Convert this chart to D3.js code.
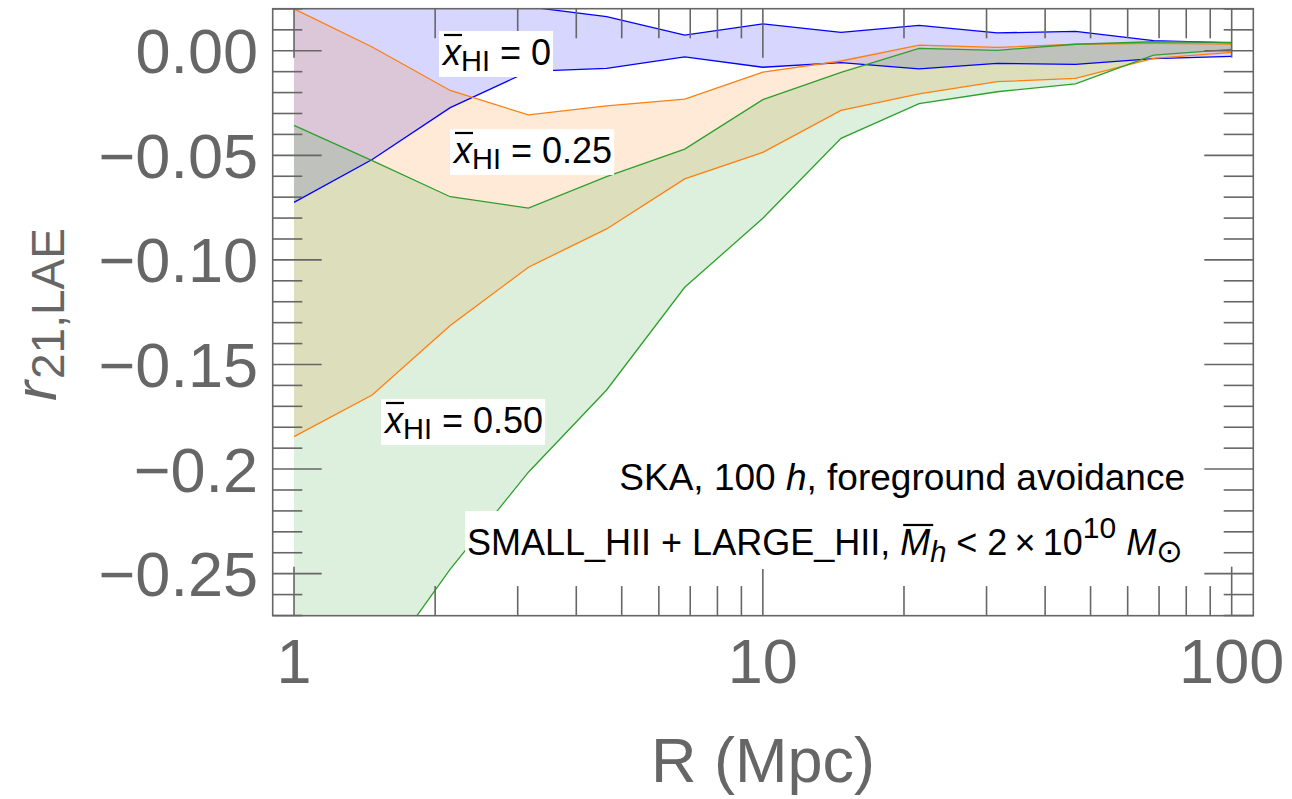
<!DOCTYPE html>
<html>
<head>
<meta charset="utf-8">
<script src="https://cdn.jsdelivr.net/npm/d3@7"></script>
<style>
  html, body { margin: 0; padding: 0; background: #fff; }
  svg { display: block; font-family: "Liberation Sans", Arial, sans-serif; }
</style>
</head>
<body>
<svg id="chart" width="1292" height="799"></svg>
<script>
// Sampled separations R (Mpc), six per decade
const radius = [1, 1.468, 2.154, 3.162, 4.642, 6.813, 10, 14.68, 21.54, 31.62, 46.42, 68.13, 100];

// Upper / lower envelopes of r_{21,LAE} for each mean neutral fraction
const upperX0   = [0.045, 0.038, 0.030, 0.0210, 0.0163, 0.0075, 0.0128, 0.0088, 0.0121, 0.0085, 0.0093, 0.0048, 0.0038];
const lowerX0   = [-0.0725, -0.0520, -0.0272, -0.0099, -0.0084, -0.0029, -0.0079, -0.0057, -0.0087, -0.0060, -0.0065, -0.0038, -0.0027];
const upperX025 = [0.0200, 0.0018, -0.0190, -0.0307, -0.0264, -0.0231, -0.0102, -0.0049, 0.0027, 0.0016, 0.0031, 0.0035, 0.0032];
const lowerX025 = [-0.1845, -0.1646, -0.1314, -0.1035, -0.0852, -0.0613, -0.0486, -0.0285, -0.0206, -0.0148, -0.0132, -0.0036, -0.0008];
const upperX050 = [-0.0357, -0.0525, -0.0698, -0.0752, -0.0602, -0.0470, -0.0234, -0.0103, 0.0011, 0.0002, 0.0031, 0.0043, 0.0040];
const lowerX050 = [-0.350, -0.300, -0.2478, -0.2015, -0.1622, -0.1131, -0.0801, -0.0419, -0.0253, -0.0196, -0.0158, -0.0021, 0.0007];

const seriesNames  = ["0", "0.25", "0.50"];
const seriesColors = ["#0000ff", "#ff7f0e", "#2ca02c"];

// Axis ticks
const xMajorTicks = [1, 10, 100];
const xMinorTicks = [2, 3, 4, 5, 6, 7, 8, 9, 20, 30, 40, 50, 60, 70, 80, 90];
const yMajorTicks = [0, -0.05, -0.10, -0.15, -0.20, -0.25];
const yTickLabels = ["0.00", "\u22120.05", "\u22120.10", "\u22120.15", "\u22120.2", "\u22120.25"];
const yMinorTicks = [0.02, 0.01, -0.01, -0.02, -0.03, -0.04, -0.06, -0.07, -0.08, -0.09,
                     -0.11, -0.12, -0.13, -0.14, -0.16, -0.17, -0.18, -0.19,
                     -0.21, -0.22, -0.23, -0.24, -0.26, -0.27];

const bands = [
  { name: seriesNames[0], color: seriesColors[0], upper: upperX0,   lower: lowerX0 },
  { name: seriesNames[1], color: seriesColors[1], upper: upperX025, lower: lowerX025 },
  { name: seriesNames[2], color: seriesColors[2], upper: upperX050, lower: lowerX050 }
];

const svg = d3.select("#chart");
const plot = { left: 272.7, right: 1253.3, top: 8.7, bottom: 615.7 };
const gray = "#666666";

const x = d3.scaleLog().domain([0.9006, 111.2]).range([plot.left, plot.right]);
const y = d3.scaleLinear().domain([-0.2701, 0.0201]).range([plot.bottom, plot.top]);

svg.append("defs").append("clipPath").attr("id", "plotClip")
  .append("rect")
  .attr("x", plot.left).attr("y", plot.top)
  .attr("width", plot.right - plot.left).attr("height", plot.bottom - plot.top);

const layer = svg.append("g").attr("clip-path", "url(#plotClip)");

const area = d3.area()
  .x((d, i) => x(radius[i]))
  .y0(d => y(d[1]))
  .y1(d => y(d[0]));
const line = d3.line().x((d, i) => x(radius[i])).y(d => y(d));

bands.forEach(b => {
  layer.append("path")
    .datum(b.upper.map((u, i) => [u, b.lower[i]]))
    .attr("d", area)
    .attr("fill", b.color)
    .attr("fill-opacity", 0.16)
    .attr("stroke", "none");
});
bands.forEach(b => {
  [b.upper, b.lower].forEach(arr => {
    layer.append("path")
      .datum(arr)
      .attr("d", line)
      .attr("fill", "none")
      .attr("stroke", b.color)
      .attr("stroke-width", 1.3);
  });
});

// Frame with inward ticks on all four sides
const frame = svg.append("g").attr("stroke", gray).attr("stroke-width", 1.6);
const majorLen = 49, minorLen = 29.6;
function xTicks(values, len) {
  values.forEach(v => {
    const px = x(v);
    frame.append("line").attr("x1", px).attr("x2", px).attr("y1", plot.bottom).attr("y2", plot.bottom - len);
    frame.append("line").attr("x1", px).attr("x2", px).attr("y1", plot.top).attr("y2", plot.top + len);
  });
}
function yTicks(values, len) {
  values.forEach(v => {
    const py = y(v);
    frame.append("line").attr("y1", py).attr("y2", py).attr("x1", plot.left).attr("x2", plot.left + len);
    frame.append("line").attr("y1", py).attr("y2", py).attr("x1", plot.right).attr("x2", plot.right - len);
  });
}
xTicks(xMajorTicks, majorLen);
xTicks(xMinorTicks, minorLen);
yTicks(yMajorTicks, majorLen);
yTicks(yMinorTicks, minorLen);
frame.append("rect")
  .attr("x", plot.left).attr("y", plot.top)
  .attr("width", plot.right - plot.left).attr("height", plot.bottom - plot.top)
  .attr("fill", "none");

// Tick labels
const tickFont = 63;
svg.append("g").selectAll("text").data(xMajorTicks).join("text")
  .attr("x", d => x(d)).attr("y", 683)
  .attr("text-anchor", "middle").attr("font-size", tickFont).attr("fill", gray)
  .text(d => d);
svg.append("g").selectAll("text").data(yMajorTicks).join("text")
  .attr("x", 258).attr("y", d => y(d) + 22.5)
  .attr("text-anchor", "end").attr("font-size", tickFont).attr("fill", gray)
  .text((d, i) => yTickLabels[i]);

// Axis titles
svg.append("text").attr("x", 763).attr("y", 782)
  .attr("text-anchor", "middle").attr("font-size", 63).attr("fill", gray)
  .text("R (Mpc)");
const yTitle = svg.append("text")
  .attr("transform", "translate(56,401) rotate(-90)")
  .attr("font-size", 60).attr("fill", gray);
yTitle.append("tspan").attr("font-style", "italic").text("r");
yTitle.append("tspan").attr("font-size", 46).attr("dy", 8).attr("dx", 2).text("21,LAE");

// Draws a bar over one character of a text element
function overbar(textEl, index, dxShift, lift) {
  const r = textEl.node().getExtentOfChar(index);
  svg.append("line")
    .attr("x1", r.x + dxShift).attr("x2", r.x + r.width + dxShift)
    .attr("y1", r.y + lift).attr("y2", r.y + lift)
    .attr("stroke", "#000").attr("stroke-width", 2.2);
}

// Neutral-fraction labels on white boxes
const labelPos = [[443, 65], [454, 163], [385, 433]];
seriesNames.forEach((name, i) => {
  const g = svg.append("g");
  const bg = g.append("rect").attr("fill", "#fff");
  const t = g.append("text")
    .attr("x", labelPos[i][0]).attr("y", labelPos[i][1])
    .attr("font-size", 36).attr("fill", "#000");
  t.append("tspan").attr("font-style", "italic").text("x");
  t.append("tspan").attr("font-size", 29).attr("dy", 6).text("HI");
  t.append("tspan").attr("dy", -6).text(" = " + name);
  const bb = t.node().getBBox();
  bg.attr("x", bb.x - 2).attr("y", bb.y - 1).attr("width", bb.width + 4).attr("height", bb.height + 1);
  overbar(t, 0, 1, 3);
});

// Survey / model description
const note1 = svg.append("g");
const n1bg = note1.append("rect").attr("fill", "#fff");
const n1 = note1.append("text").attr("x", 1185).attr("y", 490)
  .attr("text-anchor", "end").attr("font-size", 37).attr("fill", "#000");
n1.append("tspan").text("SKA, 100 ");
n1.append("tspan").attr("font-style", "italic").text("h");
n1.append("tspan").text(", foreground avoidance");
let b1 = n1.node().getBBox();
n1bg.attr("x", b1.x - 2).attr("y", b1.y).attr("width", b1.width + 4).attr("height", b1.height);

const note2 = svg.append("g");
const n2bg = note2.append("rect").attr("fill", "#fff");
const prefix = "SMALL_HII + LARGE_HII, ";
const n2 = note2.append("text").attr("x", 467).attr("y", 555)
  .attr("font-size", 36).attr("fill", "#000");
n2.append("tspan").text(prefix);
n2.append("tspan").attr("font-style", "italic").text("M");
n2.append("tspan").attr("font-style", "italic").attr("font-size", 29).attr("dy", 7).text("h");
n2.append("tspan").attr("dy", -7).text(" < 2\u2009\u00d7\u200910");
n2.append("tspan").attr("font-size", 30).attr("dy", -17).text("10");
n2.append("tspan").attr("dy", 17).text(" ");
n2.append("tspan").attr("font-style", "italic").text("M");
n2.append("tspan").attr("font-size", 32).attr("dy", 7).text("\u2299");
let b2 = n2.node().getBBox();
n2bg.attr("x", b2.x - 2).attr("y", b2.y).attr("width", b2.width + 4).attr("height", b2.height);
overbar(n2, prefix.length, 3, 3);
</script>
</body>
</html>
